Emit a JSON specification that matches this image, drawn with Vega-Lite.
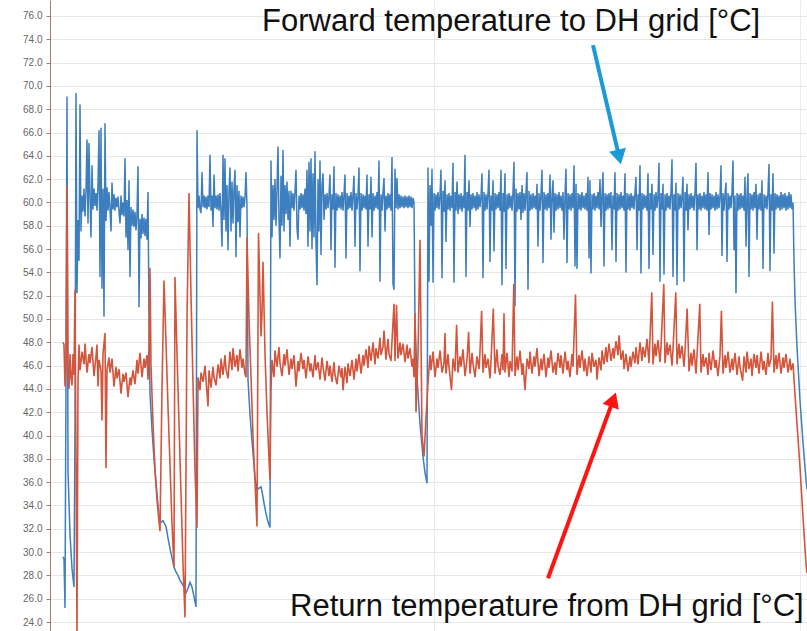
{
"$schema": "https://vega.github.io/schema/vega-lite/v6.json",
"width": 757, "height": 631,
"autosize": "none",
"padding": {"left": 50, "top": 0, "right": 0, "bottom": 0},
"background": "white",
"config": {"view": {"stroke": null}, "font": "Liberation Sans", "axisY": {"labelOverlap": false, "labelSeparation": 0, "labelBound": false}},
"datasets": {
"fwd": [
{"t":63,"v":29.6},{"t":64,"v":29.4},{"t":65,"v":25.2},{"t":66,"v":45.0},{"t":67,"v":69.1},{"t":68,"v":37.0},{"t":70,"v":31.5},{"t":72,"v":28.6},{"t":74,"v":27.0},{"t":75,"v":41.0},{"t":76,"v":69.4},{"t":77,"v":52.2},{"t":78,"v":58.5},{"t":79,"v":55.0},{"t":80,"v":68.4},{"t":81,"v":57.5},{"t":82,"v":60.6},{"t":83,"v":59.2},{"t":84,"v":61.2},{"t":85,"v":58.8},{"t":86,"v":61.0},{"t":87,"v":65.4},{"t":88,"v":58.2},{"t":89,"v":65.1},{"t":90,"v":60.4},{"t":91,"v":57.0},{"t":92,"v":63.2},{"t":93,"v":59.4},{"t":94,"v":61.2},{"t":95,"v":59.7},{"t":96,"v":60.8},{"t":97,"v":59.3},{"t":98,"v":61.6},{"t":99,"v":66.2},{"t":100,"v":53.6},{"t":101,"v":66.4},{"t":102,"v":52.6},{"t":103,"v":61.2},{"t":104,"v":50.2},{"t":105,"v":66.8},{"t":106,"v":58.4},{"t":107,"v":61.3},{"t":108,"v":59.3},{"t":109,"v":60.9},{"t":110,"v":59.5},{"t":111,"v":57.5},{"t":112,"v":61.7},{"t":113,"v":59.4},{"t":114,"v":60.7},{"t":115,"v":59.3},{"t":116,"v":60.4},{"t":117,"v":59.6},{"t":118,"v":60.5},{"t":119,"v":59.2},{"t":120,"v":58.2},{"t":121,"v":60.6},{"t":122,"v":58.9},{"t":123,"v":60.0},{"t":124,"v":58.8},{"t":125,"v":63.8},{"t":126,"v":57.0},{"t":127,"v":60.2},{"t":128,"v":55.9},{"t":129,"v":61.9},{"t":130,"v":53.6},{"t":131,"v":59.6},{"t":132,"v":58.0},{"t":133,"v":59.4},{"t":134,"v":57.9},{"t":135,"v":59.2},{"t":136,"v":57.6},{"t":137,"v":59.0},{"t":138,"v":63.1},{"t":139,"v":51.0},{"t":140,"v":58.6},{"t":141,"v":56.9},{"t":142,"v":59.0},{"t":143,"v":57.3},{"t":144,"v":58.7},{"t":145,"v":57.1},{"t":146,"v":58.6},{"t":147,"v":56.8},{"t":148,"v":60.9},{"t":149,"v":50.0},{"t":150,"v":43.6},{"t":152,"v":40.5},{"t":154,"v":38.0},{"t":156,"v":36.0},{"t":158,"v":34.0},{"t":160,"v":32.5},{"t":163,"v":32.7},{"t":166,"v":32.2},{"t":168,"v":31.2},{"t":170,"v":30.3},{"t":172,"v":29.5},{"t":174,"v":28.7},{"t":176,"v":28.3},{"t":178,"v":28.0},{"t":180,"v":27.6},{"t":182,"v":27.3},{"t":184,"v":27.0},{"t":186,"v":26.5},{"t":188,"v":26.9},{"t":190,"v":27.4},{"t":192,"v":27.0},{"t":194,"v":26.2},{"t":196,"v":25.3},{"t":197,"v":66.2},
{"t":198,"v":59.5},{"t":199,"v":60.6},{"t":200,"v":59.4},{"t":201,"v":59.1},{"t":202,"v":62.6},{"t":203,"v":59.6},{"t":204,"v":60.6},{"t":205,"v":59.5},{"t":206,"v":60.5},{"t":207,"v":59.4},{"t":208,"v":60.6},{"t":209,"v":59.6},{"t":210,"v":64.1},{"t":211,"v":59.3},{"t":212,"v":60.6},{"t":213,"v":57.9},{"t":214,"v":62.4},{"t":215,"v":59.5},{"t":216,"v":60.6},{"t":217,"v":59.4},{"t":218,"v":60.7},{"t":219,"v":59.3},{"t":220,"v":60.8},{"t":221,"v":59.2},{"t":222,"v":56.2},{"t":223,"v":64.1},{"t":224,"v":58.5},{"t":225,"v":63.8},{"t":226,"v":57.5},{"t":227,"v":61.5},{"t":228,"v":55.9},{"t":229,"v":61.0},{"t":230,"v":63.0},{"t":231,"v":57.5},{"t":232,"v":61.8},{"t":233,"v":58.2},{"t":234,"v":61.2},{"t":235,"v":62.8},{"t":236,"v":55.3},{"t":237,"v":61.5},{"t":238,"v":58.3},{"t":239,"v":61.0},{"t":240,"v":57.0},{"t":241,"v":60.6},{"t":242,"v":59.5},{"t":243,"v":60.5},{"t":244,"v":59.6},{"t":245,"v":60.4},{"t":246,"v":62.6},{"t":247,"v":59.5},{"t":248,"v":44.8},{"t":250,"v":41.8},{"t":252,"v":39.5},{"t":254,"v":37.5},{"t":255,"v":36.4},{"t":257,"v":35.3},{"t":259,"v":35.5},{"t":261,"v":35.6},{"t":262,"v":35.2},{"t":264,"v":34.2},{"t":266,"v":33.3},{"t":268,"v":32.6},{"t":270,"v":32.1},
{"t":271,"v":63.6},{"t":272,"v":57.0},{"t":273,"v":61.5},{"t":274,"v":58.5},{"t":275,"v":62.0},{"t":276,"v":58.0},{"t":277,"v":61.2},{"t":278,"v":64.8},{"t":279,"v":58.5},{"t":280,"v":55.2},{"t":281,"v":62.3},{"t":282,"v":58.0},{"t":283,"v":64.5},{"t":284,"v":57.5},{"t":285,"v":61.5},{"t":286,"v":59.0},{"t":287,"v":61.8},{"t":288,"v":58.5},{"t":289,"v":61.0},{"t":290,"v":56.2},{"t":291,"v":61.0},{"t":292,"v":59.5},{"t":293,"v":60.8},{"t":294,"v":59.3},{"t":295,"v":60.9},{"t":296,"v":62.8},{"t":297,"v":57.8},{"t":298,"v":56.8},{"t":299,"v":60.6},{"t":300,"v":59.4},{"t":301,"v":60.8},{"t":302,"v":59.5},{"t":303,"v":60.7},{"t":304,"v":59.3},{"t":305,"v":61.2},{"t":306,"v":59.0},{"t":307,"v":62.8},{"t":308,"v":56.2},{"t":309,"v":63.5},{"t":310,"v":57.5},{"t":311,"v":63.8},{"t":312,"v":56.0},{"t":313,"v":62.5},{"t":314,"v":57.0},{"t":315,"v":64.4},{"t":316,"v":56.5},{"t":317,"v":52.9},{"t":318,"v":62.0},{"t":319,"v":57.5},{"t":320,"v":63.6},{"t":321,"v":55.5},{"t":322,"v":61.5},{"t":323,"v":62.5},{"t":324,"v":58.5},{"t":325,"v":60.7},{"t":326,"v":59.4},{"t":327,"v":60.8},{"t":328,"v":59.5},{"t":329,"v":60.6},{"t":330,"v":62.4},{"t":331,"v":55.9},{"t":332,"v":60.7},{"t":333,"v":59.4},{"t":334,"v":63.1},{"t":335,"v":54.4},{"t":336,"v":60.8},{"t":337,"v":59.3},{"t":338,"v":60.7},{"t":339,"v":59.5},{"t":340,"v":60.6},{"t":341,"v":59.4},{"t":342,"v":60.9},{"t":343,"v":59.3},{"t":344,"v":60.7},{"t":345,"v":62.4},{"t":346,"v":55.2},{"t":347,"v":60.8},{"t":348,"v":59.4},{"t":349,"v":60.6},{"t":350,"v":59.5},{"t":351,"v":60.9},{"t":352,"v":59.3},{"t":353,"v":60.7},{"t":354,"v":62.3},{"t":355,"v":56.2},{"t":356,"v":60.8},{"t":357,"v":59.4},{"t":358,"v":60.6},{"t":359,"v":63.0},{"t":360,"v":54.1},{"t":361,"v":60.8},{"t":362,"v":59.3},{"t":363,"v":60.7},{"t":364,"v":59.5},{"t":365,"v":60.6},{"t":366,"v":59.4},{"t":367,"v":62.4},{"t":368,"v":56.2},{"t":369,"v":60.7},{"t":370,"v":59.4},{"t":371,"v":62.2},{"t":372,"v":57.0},{"t":373,"v":60.8},{"t":374,"v":59.3},{"t":375,"v":60.6},{"t":376,"v":59.5},{"t":377,"v":60.9},{"t":378,"v":59.4},{"t":379,"v":63.6},{"t":380,"v":53.2},{"t":381,"v":60.7},{"t":382,"v":59.3},{"t":383,"v":60.8},{"t":384,"v":62.1},{"t":385,"v":57.5},{"t":386,"v":60.6},{"t":387,"v":59.4},{"t":388,"v":60.8},{"t":389,"v":59.5},{"t":390,"v":60.7},{"t":391,"v":59.3},{"t":392,"v":63.9},{"t":393,"v":53.0},{"t":394,"v":52.5},{"t":395,"v":62.9},{"t":396,"v":59.5},{"t":397,"v":62.1},{"t":398,"v":59.4},{"t":399,"v":60.7},{"t":400,"v":59.5},{"t":401,"v":60.6},{"t":402,"v":59.6},{"t":403,"v":60.5},{"t":404,"v":59.5},{"t":405,"v":60.6},{"t":406,"v":59.6},{"t":407,"v":60.5},{"t":408,"v":59.5},{"t":409,"v":60.6},{"t":410,"v":59.6},{"t":411,"v":60.5},{"t":412,"v":59.5},{"t":413,"v":60.4},{"t":414,"v":60.0},{"t":415,"v":50.0},{"t":417,"v":45.0},{"t":420,"v":41.0},{"t":423,"v":38.2},{"t":425,"v":36.8},{"t":427,"v":35.9},
{"t":428,"v":63.0},{"t":429,"v":53.2},{"t":430,"v":61.5},{"t":431,"v":58.0},{"t":432,"v":62.9},{"t":433,"v":53.1},{"t":434,"v":60.8},{"t":435,"v":59.3},{"t":436,"v":60.7},{"t":437,"v":59.5},{"t":438,"v":60.9},{"t":439,"v":59.4},{"t":440,"v":60.6},{"t":441,"v":62.8},{"t":442,"v":53.5},{"t":443,"v":61.0},{"t":444,"v":59.2},{"t":445,"v":61.9},{"t":446,"v":56.6},{"t":447,"v":60.7},{"t":448,"v":59.4},{"t":449,"v":60.8},{"t":450,"v":59.3},{"t":451,"v":60.6},{"t":452,"v":59.5},{"t":453,"v":63.4},{"t":454,"v":53.1},{"t":455,"v":60.9},{"t":456,"v":59.3},{"t":457,"v":61.8},{"t":458,"v":59.0},{"t":459,"v":60.7},{"t":460,"v":59.4},{"t":461,"v":60.8},{"t":462,"v":59.2},{"t":463,"v":60.6},{"t":464,"v":59.5},{"t":465,"v":64.1},{"t":466,"v":53.6},{"t":467,"v":60.9},{"t":468,"v":59.3},{"t":469,"v":61.9},{"t":470,"v":57.9},{"t":471,"v":60.7},{"t":472,"v":59.4},{"t":473,"v":60.8},{"t":474,"v":59.5},{"t":475,"v":60.6},{"t":476,"v":59.3},{"t":477,"v":60.9},{"t":478,"v":59.4},{"t":479,"v":60.7},{"t":480,"v":59.6},{"t":481,"v":60.5},{"t":482,"v":62.5},{"t":483,"v":53.5},{"t":484,"v":60.9},{"t":485,"v":59.3},{"t":486,"v":60.7},{"t":487,"v":59.4},{"t":488,"v":60.8},{"t":489,"v":62.8},{"t":490,"v":54.9},{"t":491,"v":60.6},{"t":492,"v":59.3},{"t":493,"v":61.9},{"t":494,"v":55.8},{"t":495,"v":60.8},{"t":496,"v":59.4},{"t":497,"v":60.7},{"t":498,"v":59.5},{"t":499,"v":60.9},{"t":500,"v":59.3},{"t":501,"v":62.8},{"t":502,"v":52.9},{"t":503,"v":60.8},{"t":504,"v":59.2},{"t":505,"v":62.5},{"t":506,"v":54.3},{"t":507,"v":60.7},{"t":508,"v":59.4},{"t":509,"v":60.8},{"t":510,"v":59.5},{"t":511,"v":60.6},{"t":512,"v":59.3},{"t":513,"v":60.9},{"t":514,"v":63.5},{"t":515,"v":51.1},{"t":516,"v":61.2},{"t":517,"v":59.2},{"t":518,"v":60.8},{"t":519,"v":59.4},{"t":520,"v":60.9},{"t":521,"v":58.5},{"t":522,"v":61.5},{"t":523,"v":59.1},{"t":524,"v":60.8},{"t":525,"v":59.3},{"t":526,"v":60.9},{"t":527,"v":62.6},{"t":528,"v":52.5},{"t":529,"v":61.0},{"t":530,"v":59.3},{"t":531,"v":60.7},{"t":532,"v":59.4},{"t":533,"v":60.8},{"t":534,"v":59.5},{"t":535,"v":60.6},{"t":536,"v":59.4},{"t":537,"v":61.6},{"t":538,"v":56.2},{"t":539,"v":60.8},{"t":540,"v":59.3},{"t":541,"v":60.7},{"t":542,"v":62.8},{"t":543,"v":54.8},{"t":544,"v":60.9},{"t":545,"v":59.4},{"t":546,"v":60.7},{"t":547,"v":59.3},{"t":548,"v":60.8},{"t":549,"v":59.5},{"t":550,"v":62.4},{"t":551,"v":56.8},{"t":552,"v":60.6},{"t":553,"v":61.9},{"t":554,"v":57.4},{"t":555,"v":60.8},{"t":556,"v":59.3},{"t":557,"v":60.7},{"t":558,"v":59.4},{"t":559,"v":60.9},{"t":560,"v":59.5},{"t":561,"v":60.6},{"t":562,"v":59.3},{"t":563,"v":60.9},{"t":564,"v":56.8},{"t":565,"v":60.6},{"t":566,"v":62.9},{"t":567,"v":54.8},{"t":568,"v":60.8},{"t":569,"v":59.4},{"t":570,"v":60.7},{"t":571,"v":59.3},{"t":572,"v":60.8},{"t":573,"v":59.5},{"t":574,"v":63.2},{"t":575,"v":54.5},{"t":576,"v":61.6},{"t":577,"v":54.3},{"t":578,"v":60.8},{"t":579,"v":59.4},{"t":580,"v":60.7},{"t":581,"v":59.3},{"t":582,"v":60.9},{"t":583,"v":59.5},{"t":584,"v":60.6},{"t":585,"v":59.4},{"t":586,"v":60.8},{"t":587,"v":59.3},{"t":588,"v":62.2},{"t":589,"v":55.2},{"t":590,"v":61.9},{"t":591,"v":53.9},{"t":592,"v":60.7},{"t":593,"v":59.4},{"t":594,"v":60.8},{"t":595,"v":59.3},{"t":596,"v":60.6},{"t":597,"v":59.5},{"t":598,"v":60.9},{"t":599,"v":59.4},{"t":600,"v":62.0},{"t":601,"v":57.9},{"t":602,"v":60.6},{"t":603,"v":62.6},{"t":604,"v":54.5},{"t":605,"v":60.8},{"t":606,"v":59.3},{"t":607,"v":60.7},{"t":608,"v":59.4},{"t":609,"v":60.8},{"t":610,"v":59.5},{"t":611,"v":60.9},{"t":612,"v":55.9},{"t":613,"v":60.6},{"t":614,"v":59.4},{"t":615,"v":62.6},{"t":616,"v":54.9},{"t":617,"v":60.8},{"t":618,"v":59.3},{"t":619,"v":60.7},{"t":620,"v":59.4},{"t":621,"v":60.9},{"t":622,"v":59.5},{"t":623,"v":60.6},{"t":624,"v":59.3},{"t":625,"v":62.5},{"t":626,"v":54.0},{"t":627,"v":60.8},{"t":628,"v":59.4},{"t":629,"v":60.7},{"t":630,"v":59.3},{"t":631,"v":60.8},{"t":632,"v":59.5},{"t":633,"v":60.6},{"t":634,"v":59.4},{"t":635,"v":60.9},{"t":636,"v":62.2},{"t":637,"v":55.9},{"t":638,"v":60.7},{"t":639,"v":59.3},{"t":640,"v":63.2},{"t":641,"v":53.9},{"t":642,"v":60.8},{"t":643,"v":59.4},{"t":644,"v":60.7},{"t":645,"v":59.5},{"t":646,"v":60.6},{"t":647,"v":59.3},{"t":648,"v":62.5},{"t":649,"v":54.3},{"t":650,"v":60.8},{"t":651,"v":59.4},{"t":652,"v":61.6},{"t":653,"v":55.5},{"t":654,"v":60.7},{"t":655,"v":59.3},{"t":656,"v":60.9},{"t":657,"v":59.5},{"t":658,"v":60.6},{"t":659,"v":63.4},{"t":660,"v":53.2},{"t":661,"v":60.8},{"t":662,"v":59.4},{"t":663,"v":61.6},{"t":664,"v":53.8},{"t":665,"v":60.7},{"t":666,"v":59.3},{"t":667,"v":60.8},{"t":668,"v":59.5},{"t":669,"v":60.6},{"t":670,"v":59.4},{"t":671,"v":60.9},{"t":672,"v":63.7},{"t":673,"v":53.6},{"t":674,"v":60.7},{"t":675,"v":59.3},{"t":676,"v":61.7},{"t":677,"v":52.9},{"t":678,"v":60.8},{"t":679,"v":59.4},{"t":680,"v":60.7},{"t":681,"v":59.5},{"t":682,"v":60.6},{"t":683,"v":62.2},{"t":684,"v":53.2},{"t":685,"v":60.9},{"t":686,"v":59.3},{"t":687,"v":61.6},{"t":688,"v":57.6},{"t":689,"v":60.7},{"t":690,"v":59.4},{"t":691,"v":60.8},{"t":692,"v":59.5},{"t":693,"v":60.6},{"t":694,"v":59.3},{"t":695,"v":60.9},{"t":696,"v":63.4},{"t":697,"v":55.9},{"t":698,"v":60.7},{"t":699,"v":59.4},{"t":700,"v":60.8},{"t":701,"v":59.3},{"t":702,"v":60.6},{"t":703,"v":59.5},{"t":704,"v":60.9},{"t":705,"v":59.4},{"t":706,"v":60.7},{"t":707,"v":59.3},{"t":708,"v":62.6},{"t":709,"v":57.2},{"t":710,"v":60.8},{"t":711,"v":59.4},{"t":712,"v":60.7},{"t":713,"v":59.5},{"t":714,"v":60.6},{"t":715,"v":59.3},{"t":716,"v":60.9},{"t":717,"v":59.4},{"t":718,"v":60.7},{"t":719,"v":59.5},{"t":720,"v":60.6},{"t":721,"v":63.2},{"t":722,"v":55.4},{"t":723,"v":60.8},{"t":724,"v":59.3},{"t":725,"v":60.7},{"t":726,"v":61.7},{"t":727,"v":54.9},{"t":728,"v":60.8},{"t":729,"v":59.4},{"t":730,"v":60.6},{"t":731,"v":59.5},{"t":732,"v":60.9},{"t":733,"v":63.6},{"t":734,"v":55.9},{"t":735,"v":60.6},{"t":736,"v":52.2},{"t":737,"v":60.8},{"t":738,"v":59.3},{"t":739,"v":60.7},{"t":740,"v":59.4},{"t":741,"v":60.8},{"t":742,"v":59.5},{"t":743,"v":60.6},{"t":744,"v":59.3},{"t":745,"v":62.2},{"t":746,"v":56.2},{"t":747,"v":60.6},{"t":748,"v":62.5},{"t":749,"v":53.6},{"t":750,"v":60.8},{"t":751,"v":59.4},{"t":752,"v":60.7},{"t":753,"v":59.3},{"t":754,"v":60.9},{"t":755,"v":59.5},{"t":756,"v":61.6},{"t":757,"v":56.8},{"t":758,"v":60.7},{"t":759,"v":59.4},{"t":760,"v":60.8},{"t":761,"v":59.3},{"t":762,"v":61.9},{"t":763,"v":54.3},{"t":764,"v":60.7},{"t":765,"v":59.5},{"t":766,"v":60.6},{"t":767,"v":59.4},{"t":768,"v":60.9},{"t":769,"v":63.3},{"t":770,"v":54.1},{"t":771,"v":60.7},{"t":772,"v":59.3},{"t":773,"v":62.5},{"t":774,"v":55.6},{"t":775,"v":60.8},{"t":776,"v":59.4},{"t":777,"v":60.7},{"t":778,"v":59.5},{"t":779,"v":60.6},{"t":780,"v":59.3},{"t":781,"v":60.9},{"t":782,"v":59.4},{"t":783,"v":60.7},{"t":784,"v":59.5},{"t":785,"v":60.8},{"t":786,"v":59.3},{"t":787,"v":60.6},{"t":788,"v":59.4},{"t":789,"v":60.9},{"t":790,"v":59.5},{"t":791,"v":60.7},{"t":792,"v":59.4},{"t":793,"v":60.0},{"t":794,"v":55.0},{"t":795,"v":51.6},{"t":797,"v":47.6},{"t":800,"v":43.0},{"t":803,"v":39.4},{"t":806,"v":36.2},{"t":807,"v":35.4}
],
"ret": [
{"t":63,"v":48.0},{"t":64,"v":47.8},{"t":65,"v":44.2},{"t":66,"v":46.5},{"t":67,"v":61.4},{"t":68,"v":45.5},{"t":69,"v":44.0},{"t":70,"v":47.0},{"t":71,"v":45.0},{"t":72,"v":44.3},{"t":73,"v":47.0},{"t":74,"v":45.2},{"t":75,"v":52.5},{"t":76,"v":38.0},{"t":77,"v":22.8},
{"t":78,"v":44.5},{"t":79,"v":47.8},{"t":80,"v":45.6},{"t":82,"v":47.2},{"t":84,"v":46.1},{"t":85,"v":47.9},{"t":87,"v":45.4},{"t":89,"v":47.0},{"t":90,"v":46.2},{"t":92,"v":47.6},{"t":94,"v":45.1},{"t":96,"v":46.8},{"t":97,"v":47.8},{"t":98,"v":44.2},{"t":99,"v":46.5},{"t":101,"v":45.6},{"t":102,"v":41.3},{"t":103,"v":47.0},{"t":105,"v":48.8},{"t":106,"v":37.2},{"t":107,"v":45.6},{"t":109,"v":46.7},{"t":110,"v":45.4},{"t":112,"v":46.6},{"t":114,"v":44.2},{"t":116,"v":45.9},{"t":117,"v":44.9},{"t":119,"v":45.7},{"t":121,"v":43.6},{"t":123,"v":45.3},{"t":124,"v":44.6},{"t":126,"v":45.4},{"t":128,"v":43.3},{"t":130,"v":45.0},{"t":131,"v":44.3},{"t":133,"v":45.6},{"t":135,"v":44.4},{"t":137,"v":46.5},{"t":138,"v":45.3},{"t":140,"v":47.1},{"t":142,"v":45.0},{"t":144,"v":46.6},{"t":145,"v":45.8},{"t":147,"v":46.9},{"t":148,"v":44.8},{"t":149,"v":47.5},
{"t":150,"v":54.4},{"t":151,"v":46.0},{"t":153,"v":41.0},{"t":155,"v":37.0},{"t":157,"v":34.5},{"t":159,"v":32.6},{"t":160,"v":31.8},{"t":162,"v":44.0},{"t":164,"v":53.3},{"t":166,"v":48.0},{"t":168,"v":42.5},{"t":170,"v":37.5},{"t":172,"v":32.5},{"t":174,"v":28.7},{"t":175,"v":53.6},{"t":177,"v":47.0},{"t":179,"v":41.0},{"t":181,"v":35.0},{"t":183,"v":29.0},{"t":185,"v":24.4},{"t":187,"v":50.0},{"t":189,"v":60.8},{"t":191,"v":52.0},{"t":193,"v":44.5},{"t":195,"v":37.0},{"t":197,"v":32.1},
{"t":198,"v":45.0},{"t":200,"v":43.9},{"t":201,"v":45.4},{"t":203,"v":44.6},{"t":205,"v":46.0},{"t":206,"v":44.8},{"t":208,"v":42.5},{"t":209,"v":45.6},{"t":211,"v":44.1},{"t":213,"v":45.9},{"t":214,"v":45.0},{"t":216,"v":44.3},{"t":218,"v":46.1},{"t":220,"v":44.9},{"t":221,"v":46.6},{"t":223,"v":45.2},{"t":225,"v":46.9},{"t":226,"v":45.7},{"t":228,"v":44.9},{"t":230,"v":47.2},{"t":232,"v":45.6},{"t":233,"v":47.5},{"t":235,"v":45.9},{"t":237,"v":46.9},{"t":238,"v":45.5},{"t":240,"v":47.4},{"t":242,"v":45.8},{"t":243,"v":46.6},{"t":245,"v":45.3},{"t":246,"v":45.0},
{"t":247,"v":57.0},{"t":249,"v":50.0},{"t":251,"v":45.0},{"t":253,"v":40.0},{"t":255,"v":36.0},{"t":257,"v":32.2},{"t":258.5,"v":57.4},{"t":260,"v":52.0},{"t":261,"v":48.5},{"t":262,"v":50.5},{"t":263,"v":54.9},{"t":265,"v":47.0},{"t":267,"v":42.0},{"t":269,"v":38.0},{"t":270,"v":36.2},{"t":271,"v":44.0},
{"t":272,"v":46.5},{"t":274,"v":45.0},{"t":275,"v":47.3},{"t":277,"v":45.9},{"t":279,"v":47.6},{"t":280,"v":46.2},{"t":282,"v":45.1},{"t":284,"v":47.0},{"t":285,"v":46.0},{"t":287,"v":47.4},{"t":289,"v":45.2},{"t":291,"v":46.6},{"t":292,"v":45.7},{"t":294,"v":46.9},{"t":296,"v":44.2},{"t":298,"v":46.4},{"t":299,"v":45.5},{"t":301,"v":47.1},{"t":303,"v":45.7},{"t":304,"v":46.5},{"t":306,"v":44.9},{"t":308,"v":46.8},{"t":310,"v":45.5},{"t":311,"v":46.2},{"t":313,"v":45.0},{"t":315,"v":46.9},{"t":316,"v":45.6},{"t":318,"v":46.3},{"t":320,"v":44.8},{"t":322,"v":46.7},{"t":323,"v":45.9},{"t":325,"v":44.7},{"t":327,"v":46.4},{"t":329,"v":45.1},{"t":330,"v":46.0},{"t":332,"v":44.6},{"t":334,"v":46.3},{"t":335,"v":45.2},{"t":337,"v":44.4},{"t":339,"v":46.0},{"t":341,"v":45.0},{"t":342,"v":45.8},{"t":343,"v":43.9},{"t":345,"v":45.9},{"t":347,"v":44.5},{"t":348,"v":46.2},{"t":350,"v":45.1},{"t":352,"v":46.5},{"t":354,"v":44.8},{"t":356,"v":46.6},{"t":357,"v":45.5},{"t":359,"v":47.0},{"t":361,"v":45.3},{"t":363,"v":46.9},{"t":364,"v":46.0},{"t":366,"v":47.4},{"t":368,"v":45.8},{"t":369,"v":47.7},{"t":371,"v":46.4},{"t":373,"v":48.0},{"t":375,"v":46.1},{"t":376,"v":47.5},{"t":378,"v":46.6},{"t":380,"v":48.4},{"t":381,"v":46.9},{"t":383,"v":47.6},{"t":384,"v":49.0},{"t":386,"v":46.5},{"t":388,"v":48.3},{"t":389,"v":47.0},{"t":391,"v":46.4},{"t":392,"v":48.1},{"t":394,"v":51.3},{"t":395,"v":46.4},{"t":396.5,"v":51.2},{"t":398,"v":46.6},{"t":400,"v":48.0},{"t":401,"v":46.9},{"t":403,"v":47.9},{"t":405,"v":46.3},{"t":407,"v":47.8},{"t":408,"v":46.6},{"t":410,"v":47.5},{"t":412,"v":45.9},{"t":413,"v":46.6},{"t":414,"v":45.0},{"t":415,"v":50.5},{"t":416,"v":42.0},{"t":418,"v":47.0},{"t":420,"v":56.8},{"t":422,"v":40.0},{"t":424,"v":38.2},{"t":426,"v":41.5},
{"t":428,"v":44.5},{"t":430,"v":46.9},{"t":431,"v":45.6},{"t":433,"v":47.2},{"t":435,"v":45.0},{"t":437,"v":46.6},{"t":438,"v":45.8},{"t":440,"v":47.3},{"t":442,"v":45.4},{"t":444,"v":46.2},{"t":445,"v":48.8},{"t":446,"v":45.3},{"t":448,"v":47.0},{"t":449,"v":45.9},{"t":451.5,"v":43.9},{"t":453,"v":46.6},{"t":455,"v":45.5},{"t":456.6,"v":49.5},{"t":458,"v":45.4},{"t":460,"v":46.8},{"t":461,"v":45.9},{"t":463,"v":47.4},{"t":465,"v":45.1},{"t":467,"v":46.5},{"t":468.6,"v":48.9},{"t":470,"v":45.3},{"t":472,"v":47.1},{"t":473,"v":46.2},{"t":475,"v":45.0},{"t":477,"v":46.8},{"t":479,"v":45.7},{"t":480,"v":47.2},{"t":481.6,"v":50.7},{"t":483,"v":45.4},{"t":485,"v":47.0},{"t":486,"v":45.8},{"t":488,"v":46.6},{"t":490,"v":44.9},{"t":491,"v":46.3},{"t":493.3,"v":50.9},{"t":495,"v":45.3},{"t":497,"v":47.4},{"t":498,"v":46.0},{"t":500,"v":45.2},{"t":502,"v":47.0},{"t":503,"v":45.6},{"t":504,"v":50.5},{"t":505,"v":45.4},{"t":507,"v":47.1},{"t":509,"v":45.0},{"t":510,"v":46.4},{"t":512,"v":45.5},{"t":513.8,"v":53.0},{"t":515,"v":45.1},{"t":517,"v":46.8},{"t":518,"v":45.6},{"t":520,"v":47.3},{"t":522,"v":45.2},{"t":523,"v":46.2},{"t":525,"v":43.9},{"t":527,"v":46.6},{"t":529,"v":45.7},{"t":530,"v":47.2},{"t":532,"v":45.3},{"t":534,"v":46.8},{"t":535,"v":45.9},{"t":537,"v":47.5},{"t":539,"v":45.1},{"t":541,"v":46.6},{"t":542,"v":45.6},{"t":544,"v":47.0},{"t":546,"v":45.0},{"t":548,"v":46.7},{"t":549,"v":45.8},{"t":551,"v":47.3},{"t":553,"v":45.4},{"t":555,"v":46.3},{"t":556,"v":45.2},{"t":558,"v":47.1},{"t":560,"v":45.8},{"t":561,"v":46.9},{"t":563,"v":45.3},{"t":565,"v":47.2},{"t":567,"v":45.6},{"t":568,"v":46.4},{"t":570,"v":45.0},{"t":572,"v":47.0},{"t":573,"v":45.9},{"t":575.5,"v":52.1},{"t":577,"v":45.2},{"t":579,"v":46.9},{"t":580,"v":45.8},{"t":582,"v":47.3},{"t":584,"v":45.5},{"t":585,"v":46.6},{"t":587,"v":45.1},{"t":589,"v":46.8},{"t":591,"v":45.4},{"t":592,"v":47.1},{"t":594,"v":45.9},{"t":596,"v":46.5},{"t":597,"v":44.8},{"t":599,"v":46.7},{"t":601,"v":45.6},{"t":602,"v":47.3},{"t":604,"v":46.1},{"t":606,"v":47.6},{"t":607,"v":46.3},{"t":609,"v":47.9},{"t":611,"v":46.4},{"t":613,"v":47.5},{"t":614,"v":46.6},{"t":616,"v":48.1},{"t":618,"v":46.9},{"t":619,"v":48.6},{"t":621,"v":46.5},{"t":623,"v":47.3},{"t":624,"v":45.7},{"t":626,"v":47.0},{"t":628,"v":45.5},{"t":630,"v":46.8},{"t":631,"v":45.9},{"t":633,"v":47.2},{"t":635,"v":46.2},{"t":636,"v":47.6},{"t":638,"v":46.1},{"t":640,"v":48.0},{"t":642,"v":46.4},{"t":643,"v":47.6},{"t":645,"v":46.7},{"t":647,"v":48.3},{"t":649,"v":46.2},{"t":651.8,"v":52.3},{"t":653,"v":46.1},{"t":655,"v":47.9},{"t":656,"v":46.8},{"t":658,"v":48.2},{"t":660,"v":46.3},{"t":661,"v":47.6},{"t":663.8,"v":53.0},{"t":665,"v":46.2},{"t":667,"v":48.0},{"t":668,"v":46.9},{"t":670,"v":47.8},{"t":672,"v":46.0},{"t":673,"v":47.4},{"t":675.8,"v":52.3},{"t":677,"v":46.1},{"t":679,"v":47.9},{"t":680,"v":46.6},{"t":682,"v":47.7},{"t":684,"v":45.9},{"t":685,"v":47.2},{"t":687.1,"v":50.9},{"t":689,"v":45.5},{"t":691,"v":47.1},{"t":692,"v":46.0},{"t":694,"v":47.4},{"t":696,"v":45.3},{"t":697,"v":46.8},{"t":699.8,"v":51.3},{"t":701,"v":45.4},{"t":703,"v":47.0},{"t":704,"v":45.9},{"t":706,"v":46.7},{"t":708,"v":45.2},{"t":709,"v":47.1},{"t":711,"v":45.6},{"t":713,"v":47.3},{"t":715,"v":45.8},{"t":716,"v":46.5},{"t":718,"v":45.1},{"t":720,"v":46.9},{"t":721.4,"v":50.7},{"t":723,"v":45.3},{"t":725,"v":46.9},{"t":726,"v":45.8},{"t":728,"v":47.2},{"t":730,"v":45.4},{"t":732,"v":46.6},{"t":733,"v":45.6},{"t":735,"v":47.1},{"t":737,"v":45.2},{"t":739,"v":46.8},{"t":740,"v":45.9},{"t":742.6,"v":44.7},{"t":744,"v":46.8},{"t":746,"v":45.4},{"t":747,"v":47.2},{"t":749,"v":45.7},{"t":751,"v":46.6},{"t":752,"v":45.1},{"t":754,"v":47.0},{"t":756,"v":45.8},{"t":757,"v":46.9},{"t":759,"v":45.3},{"t":761,"v":47.2},{"t":763,"v":45.6},{"t":764,"v":46.4},{"t":766,"v":45.2},{"t":768,"v":47.1},{"t":769,"v":45.9},{"t":771,"v":46.6},{"t":772.4,"v":51.5},{"t":774,"v":45.4},{"t":776,"v":46.9},{"t":777,"v":45.7},{"t":779,"v":47.1},{"t":781,"v":45.3},{"t":783,"v":46.7},{"t":784,"v":45.8},{"t":786,"v":47.0},{"t":788,"v":45.4},{"t":790,"v":46.6},{"t":791,"v":45.6},{"t":793,"v":46.2},{"t":795,"v":43.5},{"t":797,"v":41.0},{"t":800,"v":37.3},{"t":803,"v":33.0},{"t":806,"v":29.0},{"t":807,"v":28.2}
],
"arrows": [
{"name":"fwd","t":593,"v":73.5,"t2":619.2,"v2":63.9},
{"name":"ret","t":548,"v":27.76,"t2":613.3,"v2":43.08}
],
"labels": [
{"label":"Forward temperature to DH grid [°C]","t":262,"v":74.71},
{"label":"Return temperature from DH grid [°C]","t":290,"v":24.5}
]
},
"layer": [
{"data": {"name": "fwd"},
 "mark": {"type": "line", "color": "#3d7ebf", "strokeWidth": 1.5, "clip": true},
 "encoding": {
  "x": {"field": "t", "type": "quantitative", "scale": {"domain": [50, 807], "nice": false, "zero": false},
        "axis": {"values": [434, 800], "grid": true, "gridColor": "#ebebeb", "domain": false, "ticks": false, "labels": false, "title": null}},
  "y": {"field": "v", "type": "quantitative", "scale": {"domain": [23.23, 77.37], "nice": false, "zero": false},
        "axis": {"values": [24,26,28,30,32,34,36,38,40,42,44,46,48,50,52,54,56,58,60,62,64,66,68,70,72,74,76], "tickCount": 60, "format": ".1f", "title": null, "labelOverlap": false, "labelSeparation": 0,
                 "grid": true, "gridColor": "#e6e6e6", "domainColor": "#b07868", "tickColor": "#b07868", "tickSize": 4,
                 "labelFontSize": 10, "labelColor": "#666666", "labelPadding": 4, "labelFont": "Liberation Sans"}}
 }},
{"data": {"name": "ret"},
 "mark": {"type": "line", "color": "#d4553c", "strokeWidth": 1.6, "clip": true},
 "encoding": {
  "x": {"field": "t", "type": "quantitative", "title": null},
  "y": {"field": "v", "type": "quantitative", "title": null}
 }},
{"data": {"name": "arrows"},
 "mark": {"type": "rule", "strokeWidth": 4},
 "encoding": {
  "x": {"field": "t", "type": "quantitative", "title": null},
  "y": {"field": "v", "type": "quantitative", "title": null},
  "x2": {"field": "t2"},
  "y2": {"field": "v2"},
  "color": {"field": "name", "type": "nominal", "scale": {"domain": ["fwd", "ret"], "range": ["#1c9ad8", "#ff1414"]}, "legend": null}
 }},
{"data": {"name": "arrows"},
 "transform": [{"filter": "datum.name === 'fwd'"}],
 "mark": {"type": "point", "shape": "triangle-up", "filled": true, "size": 300, "opacity": 1, "angle": 167, "color": "#1c9ad8"},
 "encoding": {
  "x": {"field": "t2", "type": "quantitative", "title": null},
  "y": {"field": "v2", "type": "quantitative", "title": null}
 }},
{"data": {"name": "arrows"},
 "transform": [{"filter": "datum.name === 'ret'"}],
 "mark": {"type": "point", "shape": "triangle-up", "filled": true, "size": 300, "opacity": 1, "angle": 20, "color": "#ff1414"},
 "encoding": {
  "x": {"field": "t2", "type": "quantitative", "title": null},
  "y": {"field": "v2", "type": "quantitative", "title": null}
 }},
{"data": {"name": "labels"},
 "mark": {"type": "text", "align": "left", "baseline": "alphabetic", "fontSize": 31, "font": "Liberation Sans", "color": "#111111"},
 "encoding": {
  "x": {"field": "t", "type": "quantitative", "title": null},
  "y": {"field": "v", "type": "quantitative", "title": null},
  "text": {"field": "label"}
 }}
]
}
